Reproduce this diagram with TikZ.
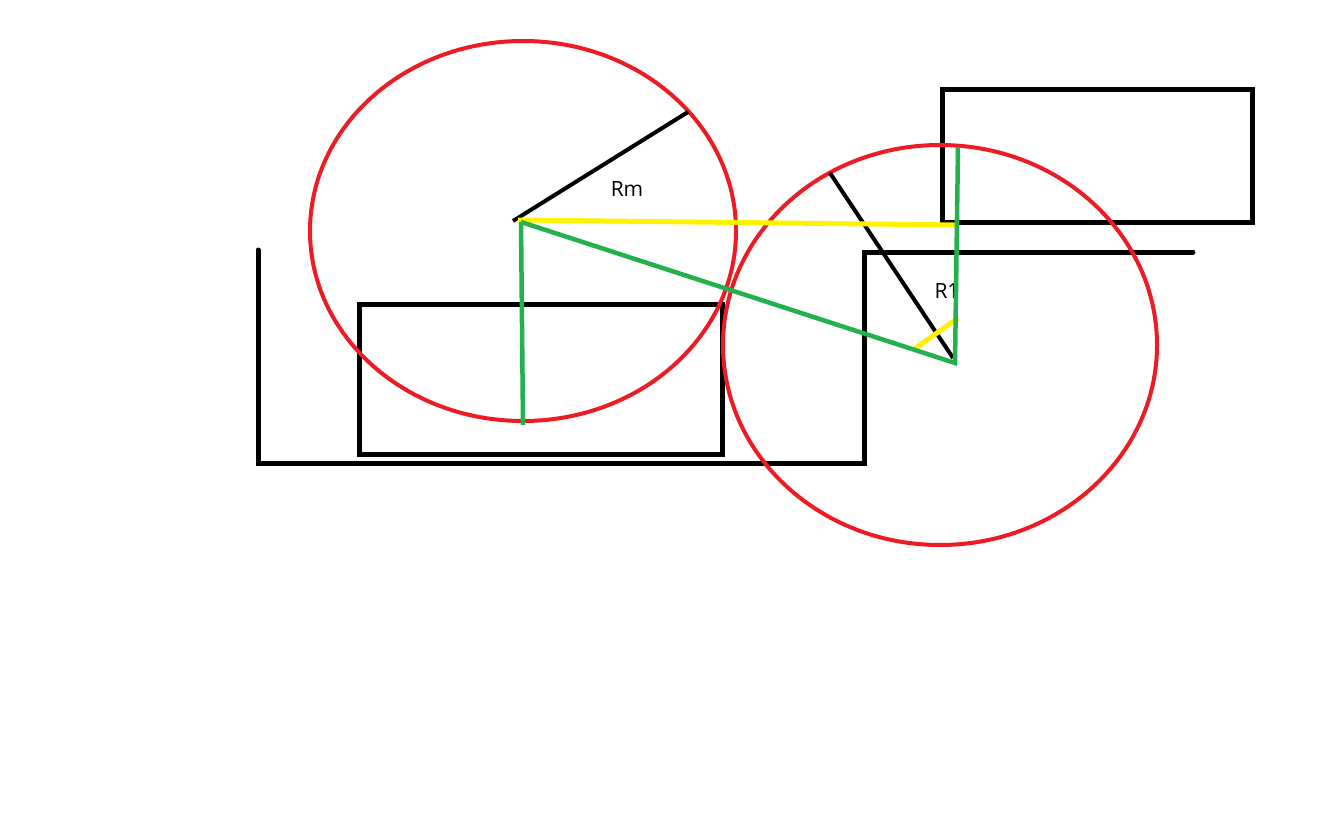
\documentclass[tikz,border=0pt]{standalone}
\usepackage{fontspec}
\setmainfont{Open Sans}
\usepackage{tikz}
\usetikzlibrary{positioning}
\definecolor{penred}{RGB}{237,28,36}
\definecolor{pengreen}{RGB}{34,177,76}
\definecolor{penyellow}{RGB}{255,242,0}

\begin{document}
\begin{tikzpicture}
[x=1pt, y=-1pt,
wall/.style={line width=5pt, draw=black, line cap=round},
circ/.style={line width=4pt, draw=penred},
radius/.style={line width=4pt, draw=black},
yel/.style={line width=5pt, draw=penyellow},
grn/.style={line width=4.5pt, draw=pengreen},
lbl/.style={font=\fontsize{21}{24}\selectfont, inner sep=0pt}]
\useasboundingbox[fill=white] (0,0) rectangle (1344,840);
% centres and points
\coordinate (cm) at (521,222);
\coordinate (c1) at (955,363);
\coordinate (cmtop) at (958,147);
\coordinate (rmend) at (688,112);
\coordinate (r1end) at (830,173);
% walls and blocks
\draw[wall] (258,250) -- (258,463) -- (864,463) -- (864,252) -- (1193,252);
\draw[wall] (359,304) rectangle (722,454);
\draw[wall] (942,90) rectangle (1252,222);
% circles
\draw[circ] (523,231) ellipse [x radius=213, y radius=190];
\draw[circ] (940,345) ellipse [x radius=217, y radius=200];
% radii
\draw[radius] (513,221) -- (rmend);
\draw[radius] (r1end) -- (953,358);
\node[lbl] (rm) at (627,189) {Rm};
\node[lbl] (r1) at (947,291) {R1};
% yellow
\draw[yel] (518,220) -- (958,225);
\draw[yel] (913,350) -- (958,318);
% green
\draw[grn] (cm) -- (523,425);
\draw[grn] (cm) -- (c1) -- (cmtop);
\end{tikzpicture}
\end{document}
